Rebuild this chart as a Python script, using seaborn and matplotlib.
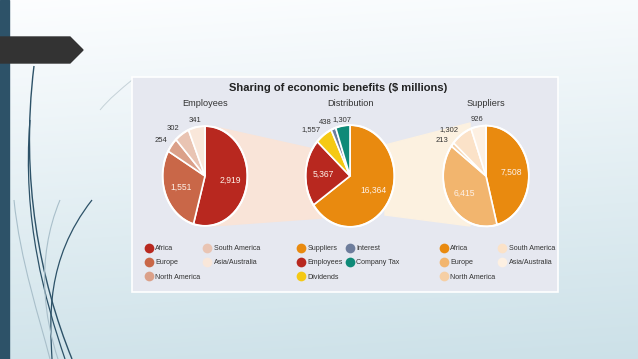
import numpy as np
import matplotlib
matplotlib.use("Agg")
import matplotlib.pyplot as plt
import seaborn as sns
from matplotlib.patches import Polygon, Rectangle, Ellipse, PathPatch
from matplotlib.path import Path
from matplotlib.lines import Line2D

# ---- data ----
title = "Sharing of economic benefits ($ millions)"

emp_labels = ["Africa", "Europe", "North America", "South America", "Asia/Australia"]
emp_values = [2919, 1551, 254, 302, 341]
emp_colors = ["#b8281f", "#c96748", "#dba089", "#e9c4b3", "#f9e7da"]

dist_labels = ["Suppliers", "Employees", "Dividends", "Interest", "Company Tax"]
dist_values = [16364, 5367, 1557, 438, 1307]
dist_colors = ["#e98a0f", "#b8281f", "#f5c914", "#6e7d9c", "#0f8a78"]

sup_labels = ["Africa", "Europe", "North America", "South America", "Asia/Australia"]
sup_values = [7508, 6415, 213, 1302, 926]
sup_colors = ["#e98a0f", "#f2b56e", "#f6cfa4", "#fbe2c8", "#fdf0e2"]

sns.set_theme(style="white")
plt.rcParams['font.family'] = ['Liberation Sans Narrow', 'Liberation Sans', 'DejaVu Sans']

W, H = 638, 359
fig = plt.figure(figsize=(W / 100, H / 100), dpi=100)


def box(x0, y0, x1, y1):
    return [x0 / W, 1 - y1 / H, (x1 - x0) / W, (y1 - y0) / H]


# slide background
bg = fig.add_axes([0, 0, 1, 1])
bg.set_xlim(0, W)
bg.set_ylim(H, 0)
bg.axis("off")
yy, xx = np.mgrid[0:1:200j, 0:1:200j]
t = np.clip(yy * 0.85 + xx * 0.1, 0, 1)
top = np.array([0.99, 0.995, 1.0])
bot = np.array([0.79, 0.875, 0.905])
grad = top[None, None, :] * (1 - t[..., None]) + bot[None, None, :] * t[..., None]
bg.imshow(grad, extent=(0, W, H, 0), aspect="auto", zorder=0)

bg.add_patch(Rectangle((0, 0), 9, H, color="#2d5268", zorder=2))
bg.add_patch(Polygon([(0, 37), (70, 37), (83, 50), (70, 63), (0, 63)],
                     closed=True, color="#333333", zorder=3))

# decorative curves
curves = [
    ([(34, 66), (20, 180), (40, 280), (72, 359)], "#2d5268", 1.0),
    ([(30, 120), (22, 220), (45, 300), (65, 359)], "#2d5268", 0.9),
    ([(92, 200), (45, 260), (50, 320), (52, 359)], "#2d5268", 0.9),
    ([(60, 200), (35, 260), (45, 320), (58, 359)], "#a9bfca", 0.8),
    ([(14, 200), (20, 260), (40, 320), (50, 359)], "#a9bfca", 0.8),
    ([(100, 110), (110, 98), (120, 90), (132, 80)], "#c5d2d8", 0.7),
]
for pts, c, lw in curves:
    path = Path(pts, [Path.MOVETO, Path.CURVE4, Path.CURVE4, Path.CURVE4])
    bg.add_patch(PathPatch(path, facecolor="none", edgecolor=c, lw=lw, zorder=2))

# chart panel
bg.add_patch(Rectangle((132, 77), 426, 215, facecolor="#e6e8f0",
                       edgecolor="white", lw=1.2, zorder=4))

# funnels connecting the pies
bg.add_patch(Polygon([(215, 127), (318, 150), (322, 218), (212, 226)],
                     closed=True, color="#f9e4d8", zorder=5))
bg.add_patch(Polygon([(385, 145), (470, 123), (470, 226), (385, 215)],
                     closed=True, color="#fcf1e0", zorder=5))

bg.text(338, 88, title, ha="center", va="center", fontsize=8,
        fontweight="bold", color="#222222", zorder=6)

pies = [
    ("Employees", emp_labels, emp_values, emp_colors, 205, 176, 42.5, 50, 146),
    ("Distribution", dist_labels, dist_values, dist_colors, 350, 176, 44.5, 51, 298),
    ("Suppliers", sup_labels, sup_values, sup_colors, 486, 176, 43, 50.5, 441),
]

for name, labels, values, colors, cx, cy, rx, ry, lx in pies:
    bg.text(cx, 104, name, ha="center", va="center", fontsize=6.6,
            color="#333333", zorder=6)
    ax = fig.add_axes(box(cx - rx, cy - ry, cx + rx, cy + ry))
    wedges, _ = ax.pie(values, colors=colors, startangle=90, counterclock=False,
                       radius=1, wedgeprops=dict(edgecolor="white", linewidth=1.2))
    ax.set_aspect("auto")
    ax.set_xlim(-1, 1)
    ax.set_ylim(-1, 1)
    ax.axis("off")
    ax.add_patch(Ellipse((0, 0), 2, 2, facecolor="none", edgecolor="white", lw=1.5))
    total = sum(values)
    for w, v in zip(wedges, values):
        mid = np.deg2rad((w.theta1 + w.theta2) / 2)
        ha = "center"
        if v / total > 0.1:
            r, col, fs = 0.6, "#fdf1e8", 6.2
        else:
            r, col, fs = 1.13, "#333333", 5.5
            if np.cos(mid) < -0.3:
                ha = "right"
        ax.text(r * np.cos(mid), r * np.sin(mid), f"{v:,}", ha=ha,
                va="center", fontsize=fs, color=col, clip_on=False)

    handles = [Line2D([], [], marker="o", ls="", markersize=7, color=c,
                      markeredgewidth=0) for c in colors]
    leg = fig.legend(handles, labels, ncol=2, loc="upper left",
                     bbox_to_anchor=(lx / W, 1 - 245 / H), frameon=False,
                     fontsize=5.1, handlelength=0.8, handletextpad=0.5,
                     columnspacing=0.6, labelspacing=1.05, borderpad=0,
                     borderaxespad=0)
    for txt in leg.get_texts():
        txt.set_color("#333333")

fig.savefig("out.png", dpi=100)
